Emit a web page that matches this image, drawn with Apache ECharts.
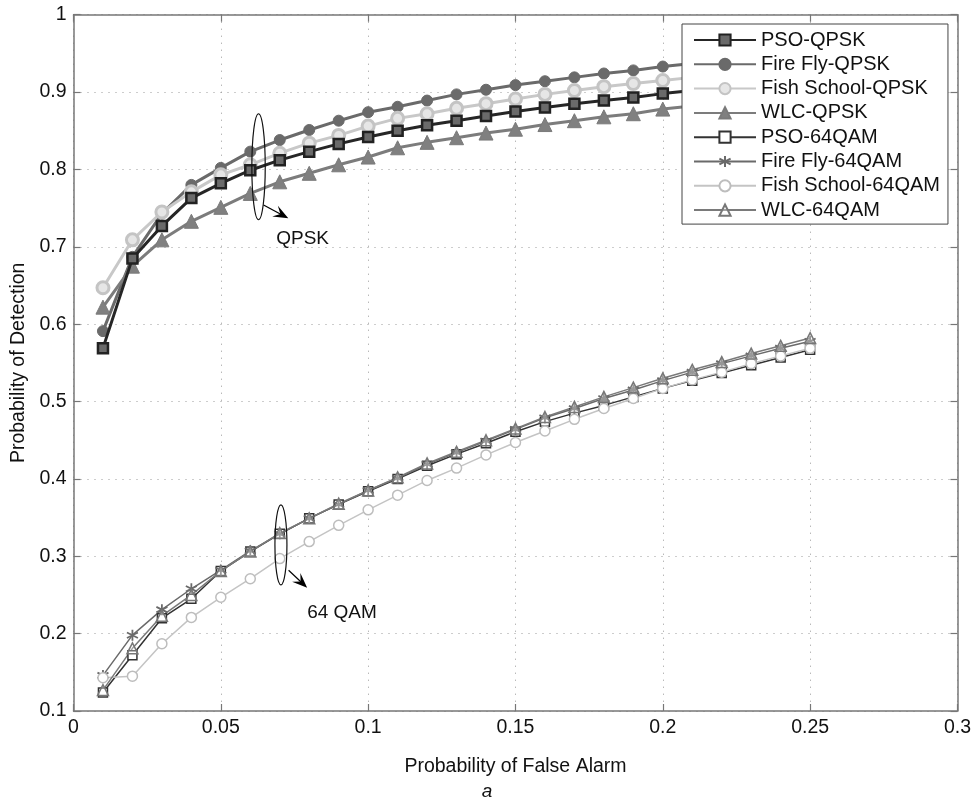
<!DOCTYPE html>
<html>
<head>
<meta charset="utf-8">
<script src="https://cdn.jsdelivr.net/npm/echarts@6/dist/echarts.min.js"></script>
<style>
  html, body { margin: 0; padding: 0; background: #fff; }
  #main { width: 974px; height: 805px; }
</style>
</head>
<body>
<div id="main"></div>
<script>
// false alarm probabilities (x)
const pfa = [0.01, 0.02, 0.03, 0.04, 0.05, 0.06, 0.07, 0.08, 0.09, 0.10,
  0.11, 0.12, 0.13, 0.14, 0.15, 0.16, 0.17, 0.18, 0.19, 0.20,
  0.21, 0.22, 0.23, 0.24, 0.25]

// QPSK curves (run behind the legend after 0.2)
const psoQpsk = [0.569, 0.685, 0.727, 0.763, 0.782, 0.799, 0.812, 0.823, 0.833, 0.842,
  0.850, 0.857, 0.863, 0.869, 0.875, 0.880, 0.885, 0.889, 0.893, 0.898, 0.902]
const fireflyQpsk = [0.591, 0.687, 0.743, 0.780, 0.802, 0.823, 0.838, 0.851, 0.863, 0.874,
  0.881, 0.889, 0.897, 0.903, 0.909, 0.914, 0.919, 0.924, 0.928, 0.933, 0.937]
const fishQpsk = [0.647, 0.709, 0.745, 0.771, 0.793, 0.806, 0.821, 0.834, 0.844, 0.856,
  0.866, 0.872, 0.879, 0.885, 0.891, 0.897, 0.902, 0.907, 0.911, 0.915, 0.919]
const wlcQpsk = [0.622, 0.675, 0.709, 0.733, 0.751, 0.769, 0.784, 0.795, 0.806, 0.816,
  0.828, 0.835, 0.841, 0.847, 0.852, 0.858, 0.863, 0.868, 0.872, 0.878, 0.882]

// 64QAM curves
const pso64 = [0.124, 0.172, 0.220, 0.245, 0.281, 0.306, 0.329, 0.349, 0.367, 0.384,
  0.400, 0.417, 0.432, 0.446, 0.461, 0.474, 0.485, 0.495, 0.506, 0.517,
  0.527, 0.537, 0.547, 0.557, 0.567]
const firefly64 = [0.146, 0.198, 0.231, 0.258, 0.282, 0.307, 0.329, 0.349, 0.367, 0.385,
  0.401, 0.419, 0.434, 0.449, 0.464, 0.479, 0.491, 0.504, 0.515, 0.527,
  0.538, 0.549, 0.559, 0.569, 0.578]
const fish64 = [0.143, 0.145, 0.187, 0.221, 0.247, 0.271, 0.297, 0.319, 0.340, 0.360,
  0.379, 0.398, 0.414, 0.431, 0.447, 0.462, 0.477, 0.491, 0.504, 0.517,
  0.528, 0.538, 0.549, 0.559, 0.569]
const wlc64 = [0.127, 0.181, 0.223, 0.250, 0.281, 0.306, 0.330, 0.349, 0.368, 0.385,
  0.402, 0.420, 0.435, 0.450, 0.465, 0.480, 0.493, 0.506, 0.518, 0.530,
  0.541, 0.551, 0.562, 0.572, 0.582]

const xTicks = [0, 0.05, 0.1, 0.15, 0.2, 0.25, 0.3]
const yTicks = [0.1, 0.2, 0.3, 0.4, 0.5, 0.6, 0.7, 0.8, 0.9, 1]

const FONT = '"Liberation Sans", Arial, Helvetica, sans-serif'
const ASTERISK = 'path://M0,-6L0,6M-5.2,-3L5.2,3M-5.2,3L5.2,-3'

const pairs = ys => ys.map((y, i) => [pfa[i], y])

const mkSeries = (name, ys, cfg) => ({
  name,
  type: 'line',
  data: pairs(ys),
  symbol: cfg.symbol,
  symbolSize: cfg.size,
  showSymbol: true,
  lineStyle: { color: cfg.line, width: cfg.width },
  itemStyle: { color: cfg.fill, borderColor: cfg.border, borderWidth: cfg.bw },
  z: cfg.z || 2
})

const series = [
  mkSeries('PSO-QPSK', psoQpsk, { symbol: 'rect', size: 10, line: '#262626', width: 3, fill: '#6a6a6a', border: '#222', bw: 2.5, z: 3 }),
  mkSeries('Fire Fly-QPSK', fireflyQpsk, { symbol: 'circle', size: 11, line: '#6a6a6a', width: 3, fill: '#6a6a6a', border: '#6a6a6a', bw: 1 }),
  mkSeries('Fish School-QPSK', fishQpsk, { symbol: 'circle', size: 12, line: '#c8c8c8', width: 3, fill: '#e6e6e6', border: '#c4c4c4', bw: 3 }),
  mkSeries('WLC-QPSK', wlcQpsk, { symbol: 'triangle', size: 14, line: '#7c7c7c', width: 3, fill: '#808080', border: '#7a7a7a', bw: 1 }),
  mkSeries('PSO-64QAM', pso64, { symbol: 'rect', size: 9, line: '#333', width: 1.5, fill: '#fff', border: '#333', bw: 1.5 }),
  mkSeries('Fire Fly-64QAM', firefly64, { symbol: ASTERISK, size: 11, line: '#6a6a6a', width: 1.5, fill: 'none', border: '#6a6a6a', bw: 1.8 }),
  mkSeries('Fish School-64QAM', fish64, { symbol: 'circle', size: 10, line: '#c4c4c4', width: 1.5, fill: '#fff', border: '#bdbdbd', bw: 1.5 }),
  mkSeries('WLC-64QAM', wlc64, { symbol: 'triangle', size: 11, line: '#7a7a7a', width: 1.5, fill: 'rgba(255,255,255,0.3)', border: '#777', bw: 1.5 })
]

const gridLine = { show: true, lineStyle: { color: '#9a9a9a', type: [1, 6], width: 1 } }
const boxLine = { show: true, onZero: false, lineStyle: { color: '#777', width: 1.5 } }
const inTicks = { show: true, inside: true, length: 7, lineStyle: { color: '#777', width: 1.2 } }

const option = {
  animation: false,
  backgroundColor: '#fff',
  textStyle: { fontFamily: FONT },
  grid: { left: 73.5, right: 16.5, top: 14.7, bottom: 94 },
  xAxis: [{
    type: 'value',
    min: xTicks[0],
    max: xTicks[xTicks.length - 1],
    interval: 0.05,
    name: 'Probability of False Alarm',
    nameLocation: 'middle',
    nameGap: 46,
    nameTextStyle: { fontSize: 19.5, color: '#111', fontFamily: FONT },
    axisLine: boxLine,
    axisTick: inTicks,
    axisLabel: { fontSize: 19.5, color: '#111', margin: 7, fontFamily: FONT },
    splitLine: gridLine
  }, {
    type: 'value',
    position: 'top',
    min: xTicks[0],
    max: xTicks[xTicks.length - 1],
    interval: 0.05,
    axisLine: boxLine,
    axisTick: inTicks,
    axisLabel: { show: false },
    splitLine: { show: false }
  }],
  yAxis: [{
    type: 'value',
    min: yTicks[0],
    max: yTicks[yTicks.length - 1],
    interval: 0.1,
    name: 'Probability of Detection',
    nameLocation: 'middle',
    nameGap: 44,
    nameRotate: 90,
    nameTextStyle: { fontSize: 19.5, color: '#111', fontFamily: FONT },
    axisLine: boxLine,
    axisTick: inTicks,
    axisLabel: { fontSize: 19.5, color: '#111', margin: 7, fontFamily: FONT },
    splitLine: gridLine
  }, {
    type: 'value',
    position: 'right',
    min: yTicks[0],
    max: yTicks[yTicks.length - 1],
    interval: 0.1,
    axisLine: boxLine,
    axisTick: inTicks,
    axisLabel: { show: false },
    splitLine: { show: false }
  }],
  legend: {
    orient: 'vertical',
    left: 682,
    top: 24,
    padding: [6, 8, 4, 11],
    itemWidth: 62,
    itemHeight: 14,
    itemGap: 4.3,
    backgroundColor: '#fff',
    borderColor: '#444',
    borderWidth: 1,
    borderRadius: 0,
    textStyle: { fontSize: 20, color: '#111', fontFamily: FONT },
    data: series.map(s => s.name)
  },
  series
}

const chart = echarts.init(document.getElementById('main'))
chart.setOption(option)

// annotations: positions given in data units, converted through the axes
const px = p => chart.convertToPixel({ seriesIndex: 0 }, p)

const arrow = (from, to) => {
  const a = px(from)
  const b = px(to)
  const dx = b[0] - a[0]
  const dy = b[1] - a[1]
  const len = Math.sqrt(dx * dx + dy * dy)
  const ux = dx / len
  const uy = dy / len
  const back = (d, w) => [b[0] - ux * d - uy * w, b[1] - uy * d + ux * w]
  return [
    {
      type: 'line',
      shape: { x1: a[0], y1: a[1], x2: back(8, 0)[0], y2: back(8, 0)[1] },
      style: { stroke: '#000', lineWidth: 1.2 },
      z: 10
    },
    {
      type: 'polygon',
      shape: { points: [b, back(15, 6), back(9, 0), back(15, -6)] },
      style: { fill: '#000' },
      z: 10
    }
  ]
}

const ellipse = (c, rx, ry) => {
  const p = px(c)
  return {
    type: 'ellipse',
    shape: { cx: p[0], cy: p[1], rx, ry },
    style: { fill: 'none', stroke: '#111', lineWidth: 1.2 },
    z: 10
  }
}

const label = (pos, text) => {
  const p = px(pos)
  return {
    type: 'text',
    x: p[0],
    y: p[1],
    style: { text, font: '19px ' + FONT, fill: '#111', textVerticalAlign: 'middle' },
    z: 10
  }
}

chart.setOption({
  graphic: [
    ellipse([0.0628, 0.8035], 6.7, 53),
    ...arrow([0.0645, 0.754], [0.0729, 0.737]),
    label([0.0688, 0.7098], 'QPSK'),
    ellipse([0.0704, 0.3148], 6, 40),
    ...arrow([0.0730, 0.282], [0.0793, 0.2594]),
    label([0.0793, 0.2275], '64 QAM'),
    {
      type: 'text',
      left: 'center',
      top: 782,
      style: { text: 'a', font: 'italic 19px ' + FONT, fill: '#111' }
    }
  ]
})
</script>
</body>
</html>
